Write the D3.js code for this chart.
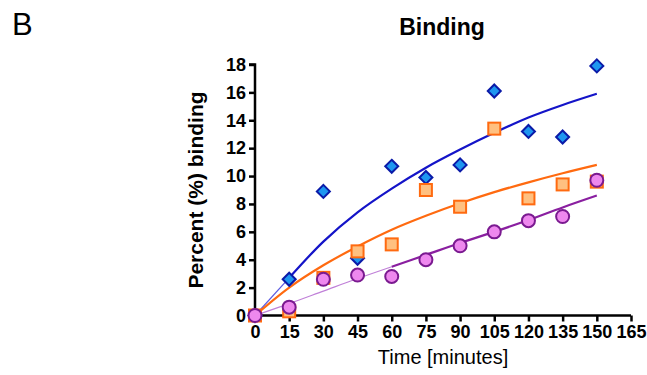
<!DOCTYPE html>
<html>
<head>
<meta charset="utf-8">
<script src="https://cdn.jsdelivr.net/npm/d3@7"></script>
<style>
  html, body { margin: 0; padding: 0; background: #fff; }
  svg { display: block; font-family: "Liberation Sans", Arial, sans-serif; }
</style>
</head>
<body>
<svg id="chart" width="647" height="375"></svg>
<script>
// ---- data ----
const timePoints = [0, 15, 30, 45, 60, 75, 90, 105, 120, 135, 150];
const blueValues   = [0, 2.6, 8.9, 4.1, 10.7, 9.9, 10.8, 16.1, 13.2, 12.8, 17.9];
const orangeValues = [0, 0.3, 2.7, 4.6, 5.1, 9.0, 7.8, 13.4, 8.4, 9.4, 9.6];
const purpleValues = [0, 0.6, 2.6, 2.9, 2.8, 4.0, 5.0, 6.0, 6.8, 7.1, 9.7];
// fitted curves
const blueFit   = [0, 2.7, 5.3, 7.4, 9.1, 10.6, 11.9, 13.1, 14.2, 15.1, 15.9];
const orangeFit = [0, 2.0, 3.6, 4.95, 6.15, 7.15, 8.05, 8.85, 9.55, 10.2, 10.8];
const purpleFit = [0, 0.85, 1.75, 2.65, 3.5, 4.35, 5.2, 6.0, 6.85, 7.75, 8.6];
const xTicks = [0, 15, 30, 45, 60, 75, 90, 105, 120, 135, 150, 165];
const yTicks = [0, 2, 4, 6, 8, 10, 12, 14, 16, 18];
const chartTitle = "Binding";
const xLabel = "Time [minutes]";
const yLabel = "Percent (%) binding";
const panelLetter = "B";

// ---- layout ----
const svg = d3.select("#chart");
const x = d3.scaleLinear().domain([0, 165]).range([255, 631]);
const y = d3.scaleLinear().domain([0, 18]).range([315.5, 64.5]);

// panel letter
svg.append("text").attr("x", 12).attr("y", 35)
  .attr("font-size", 31).attr("fill", "#000").text(panelLetter);

// title
svg.append("text").attr("x", 442).attr("y", 35)
  .attr("text-anchor", "middle").attr("font-size", 23).attr("font-weight", "bold")
  .text(chartTitle);

// axes
const yAxis = d3.axisLeft(y).tickValues(yTicks).tickSize(6).tickPadding(3).tickFormat(d3.format("d"));
const gy = svg.append("g").attr("transform", "translate(255,0)").call(yAxis);
const xAxis = d3.axisBottom(x).tickValues(xTicks).tickSize(6).tickPadding(4).tickFormat(d3.format("d"));
const gx = svg.append("g").attr("transform", "translate(0,315.5)").call(xAxis);
[gx, gy].forEach(g => {
  g.select(".domain").attr("stroke", "#000").attr("stroke-width", 2.5);
  g.selectAll(".tick line").attr("stroke", "#000").attr("stroke-width", 2.5);
  g.selectAll(".tick text").attr("font-size", 18).attr("font-weight", "bold")
    .attr("fill", "#000").attr("font-family", "Liberation Sans, Arial, sans-serif");
});
gy.select(".domain").attr("d", `M-6,${y(18)}H0V${y(0)}`);
gx.select(".domain").attr("d", `M${x(0)},0H${x(165)}`);

// axis labels
svg.append("text").attr("x", x(82.5)).attr("y", 364)
  .attr("text-anchor", "middle").attr("font-size", 20).text(xLabel);
svg.append("text")
  .attr("transform", `translate(203,${(64.5 + 315.5) / 2}) rotate(-90)`)
  .attr("text-anchor", "middle").attr("font-size", 21).attr("font-weight", "bold")
  .text(yLabel);

// curves
const series = [
  { vals: blueValues, fit: blueFit, line: "#1414c8", thin: "#5a5ae0", thinEnd: 15, shape: "diamond", fill: "#1e96f0", stroke: "#0a1aa8" },
  { vals: orangeValues, fit: orangeFit, line: "#ff6a10", thin: "#ff6a10", thinEnd: 0, shape: "square", fill: "#ffc080", stroke: "#ff6a10" },
  { vals: purpleValues, fit: purpleFit, line: "#8a1fa0", thin: "#c080d8", thinEnd: 60, shape: "circle", fill: "#ee88ee", stroke: "#7a1a90" }
];
const lineGen = d3.line().x(d => x(d[0])).y(d => y(d[1])).curve(d3.curveCatmullRom.alpha(0.5));
series.forEach(s => {
  const pts = timePoints.map((t, i) => [t, s.fit[i]]);
  const thinPts = pts.filter(p => p[0] <= s.thinEnd);
  const thickPts = pts.filter(p => p[0] >= s.thinEnd);
  if (thinPts.length > 1) {
    svg.append("path").attr("d", lineGen(thinPts)).attr("fill", "none")
      .attr("stroke", s.thin).attr("stroke-width", 1.2);
  }
  svg.append("path").attr("d", lineGen(thickPts)).attr("fill", "none")
    .attr("stroke", s.line).attr("stroke-width", 2.2);
});

// markers
series.forEach(s => {
  const g = svg.append("g");
  timePoints.forEach((t, i) => {
    const cx = x(t), cy = y(s.vals[i]);
    if (s.shape === "diamond") {
      g.append("path").attr("d", `M${cx},${cy - 6.5}L${cx + 6.5},${cy}L${cx},${cy + 6.5}L${cx - 6.5},${cy}Z`)
        .attr("fill", s.fill).attr("stroke", s.stroke).attr("stroke-width", 2);
    } else if (s.shape === "square") {
      g.append("rect").attr("x", cx - 6).attr("y", cy - 6).attr("width", 12).attr("height", 12)
        .attr("fill", s.fill).attr("stroke", s.stroke).attr("stroke-width", 2);
    } else {
      g.append("circle").attr("cx", cx).attr("cy", cy).attr("r", 6.5)
        .attr("fill", s.fill).attr("stroke", s.stroke).attr("stroke-width", 2);
    }
  });
});
</script>
</body>
</html>
